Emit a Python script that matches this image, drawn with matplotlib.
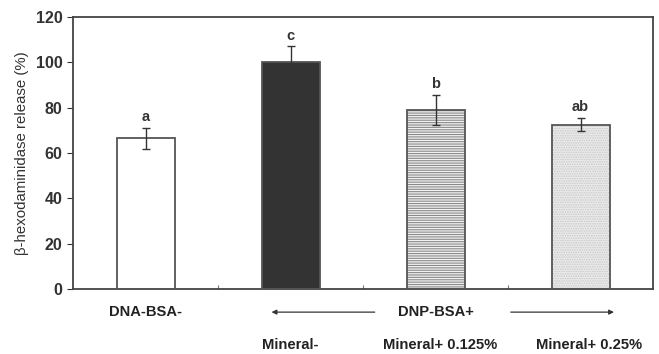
import numpy as np
import matplotlib.pyplot as plt

plt.rcParams['font.family'] = ['Liberation Sans', 'DejaVu Sans']
plt.rcParams['hatch.linewidth'] = 0.8

groups = ['DNA-BSA-', 'Mineral-', 'Mineral+ 0.125%', 'Mineral+ 0.25%']
release = [66.5, 100.0, 79.0, 72.5]
err = [4.7, 7.0, 6.7, 3.0]
letters = ['a', 'c', 'b', 'ab']

faces = ['white', '#333333', '#f2f2f2', '#ebebeb']
hatches = [None, None, '-------', '.......']
hatch_cols = ['#555555', '#333333', '#8a8a8a', '#c8c8c8']

fig = plt.figure(figsize=(6.59, 3.54), dpi=100)
ax = fig.add_axes([73/659, 1-289/354, 580/659, 272/354])

x = np.arange(len(groups))
for i in x:
    ax.bar(i, release[i], width=0.4, color=faces[i], edgecolor=hatch_cols[i],
           hatch=hatches[i], linewidth=0, zorder=2)
    ax.bar(i, release[i], width=0.4, fill=False, edgecolor='#555555',
           linewidth=1.3, zorder=3)
    ax.errorbar(i, release[i], yerr=err[i], fmt='none', ecolor='#333333',
                elinewidth=1.0, capsize=3, capthick=1.0, zorder=4)
    ax.text(i, release[i] + err[i] + 1.5, letters[i], ha='center', va='bottom',
            fontsize=10.5, fontweight='bold', color='#333333')

ax.set_xlim(-0.5, 3.5)
ax.set_ylim(0, 120)
ax.set_yticks(range(0, 121, 20))
ax.set_xticks([0.5, 1.5, 2.5])
ax.set_xticklabels([])
ax.tick_params(axis='x', direction='in', length=3, color='#777777')
ax.tick_params(axis='y', direction='out', length=4, labelsize=11.5, colors='#333333')
for lab in ax.get_yticklabels():
    lab.set_fontweight('bold')
for sp in ax.spines.values():
    sp.set_color('#444444')
    sp.set_linewidth(1.3)

ax.set_ylabel('β-hexodaminidase release (%)', fontsize=10.8, color='#333333',
              labelpad=5)

# group labels and arrows under the axis
tr = ax.get_xaxis_transform()
ax.text(0, -0.085, groups[0], transform=tr, ha='center', va='center',
        fontsize=10.6, fontweight='bold', color='#222222')
ax.text(2.0, -0.085, 'DNP-BSA+', transform=tr, ha='center', va='center',
        fontsize=10.6, fontweight='bold', color='#222222')
ax.annotate('', xy=(0.85, -0.085), xytext=(1.6, -0.085), xycoords=tr,
            textcoords=tr, annotation_clip=False,
            arrowprops=dict(arrowstyle='-|>', color='#333333', lw=0.9,
                            mutation_scale=7))
ax.annotate('', xy=(3.25, -0.085), xytext=(2.5, -0.085), xycoords=tr,
            textcoords=tr, annotation_clip=False,
            arrowprops=dict(arrowstyle='-|>', color='#333333', lw=0.9,
                            mutation_scale=7))
for i, off in zip([1, 2, 3], [0.0, 0.03, 0.06]):
    ax.text(i + off, -0.205, groups[i], transform=tr, ha='center', va='center',
            fontsize=10.6, fontweight='bold', color='#222222')

fig.savefig('out.png', dpi=100, facecolor='white')
